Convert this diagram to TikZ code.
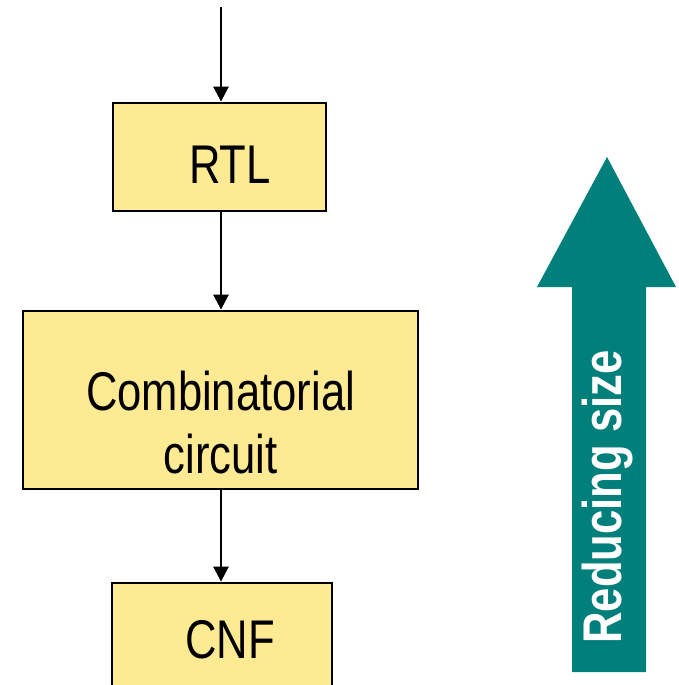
\documentclass[tikz,border=0pt]{standalone}
\usepackage{fontspec}
\newfontfamily\hv[FakeStretch=0.8]{Liberation Sans}
\usetikzlibrary{arrows.meta}
\definecolor{boxfill}{HTML}{FFEA94}
\definecolor{teal2}{HTML}{007F7B}
\tikzset{
  box/.style={draw=black, fill=boxfill, line width=2.8pt, inner sep=0pt},
  lbl/.style={font=\hv\fontsize{54.5}{63}\selectfont, inner sep=0pt, anchor=base, align=center},
  flow/.style={line width=2.6pt, -{Triangle[length=15pt,width=15pt]}},
}
\begin{document}
\begin{tikzpicture}[x=1pt,y=-1pt]
\useasboundingbox (0,0) rectangle (679,685);
% boxes
\node[box, minimum width=213pt, minimum height=108pt] (rtl) at (219.5,157) {};
\node[box, minimum width=395pt, minimum height=178pt] (comb) at (220.5,400) {};
\node[box, minimum width=220pt, minimum height=120pt] (cnf) at (222,643) {};
% labels
\node[lbl] (rtlt) at (230,183) {RTL};
\node[lbl] (combt1) at (220.5,410) {Combinatorial};
\node[lbl] (combt2) at (220.5,473) {circuit};
\node[lbl] (cnft) at (230,658) {CNF};
% connectors
\coordinate (in) at (221,7);
\draw[flow] (in) -- (in |- rtl.north);
\draw[flow] (in |- rtl.south) -- (in |- comb.north);
\draw[flow] (in |- comb.south) -- (in |- cnf.north);
% big arrow
\fill[teal2] (607,157) -- (676,287) -- (646,287) -- (646,672) -- (572,672) -- (572,287) -- (537,287) -- cycle;
\node[inner sep=0pt, text=white, font=\hv\bfseries\fontsize{54.5}{63}\selectfont, anchor=east] (red) at (622,497) {\rotatebox{90}{\raisebox{0pt}[\height][0pt]{Reducing size}}};
\end{tikzpicture}
\end{document}
